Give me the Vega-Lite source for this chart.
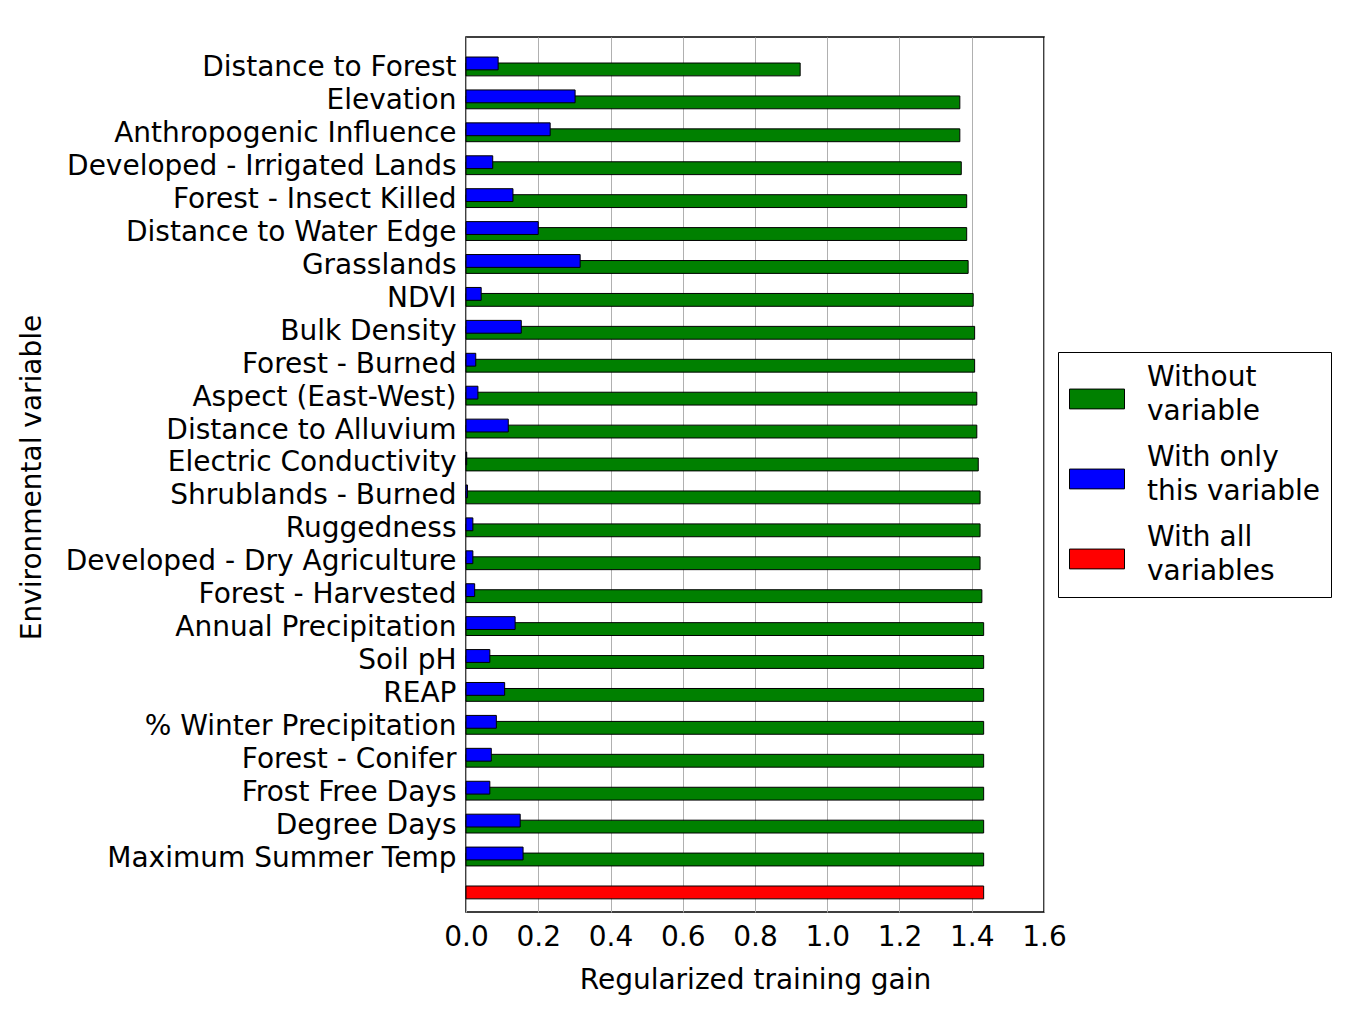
{
  "$schema": "https://vega.github.io/schema/vega-lite/v6.json",
  "width": 578,
  "height": 875,
  "autosize": "none",
  "padding": {"left": 466, "top": 37, "right": 310, "bottom": 98},
  "background": "white",
  "config": {
    "font": "DejaVu Sans",
    "view": {"stroke": "black", "strokeWidth": 1.5},
    "axis": {"labelColor": "black", "titleColor": "black", "labelFont": "DejaVu Sans", "titleFont": "DejaVu Sans", "titleFontWeight": "normal"}
  },
  "data": {
    "values": [
      {"variable": "Distance to Forest", "series": "Without variable", "gain": 0.925},
      {"variable": "Distance to Forest", "series": "With only this variable", "gain": 0.089},
      {"variable": "Elevation", "series": "Without variable", "gain": 1.367},
      {"variable": "Elevation", "series": "With only this variable", "gain": 0.302},
      {"variable": "Anthropogenic Influence", "series": "Without variable", "gain": 1.367},
      {"variable": "Anthropogenic Influence", "series": "With only this variable", "gain": 0.233},
      {"variable": "Developed - Irrigated Lands", "series": "Without variable", "gain": 1.371},
      {"variable": "Developed - Irrigated Lands", "series": "With only this variable", "gain": 0.074},
      {"variable": "Forest - Insect Killed", "series": "Without variable", "gain": 1.386},
      {"variable": "Forest - Insect Killed", "series": "With only this variable", "gain": 0.130},
      {"variable": "Distance to Water Edge", "series": "Without variable", "gain": 1.386},
      {"variable": "Distance to Water Edge", "series": "With only this variable", "gain": 0.200},
      {"variable": "Grasslands", "series": "Without variable", "gain": 1.390},
      {"variable": "Grasslands", "series": "With only this variable", "gain": 0.316},
      {"variable": "NDVI", "series": "Without variable", "gain": 1.404},
      {"variable": "NDVI", "series": "With only this variable", "gain": 0.042},
      {"variable": "Bulk Density", "series": "Without variable", "gain": 1.408},
      {"variable": "Bulk Density", "series": "With only this variable", "gain": 0.153},
      {"variable": "Forest - Burned", "series": "Without variable", "gain": 1.408},
      {"variable": "Forest - Burned", "series": "With only this variable", "gain": 0.027},
      {"variable": "Aspect (East-West)", "series": "Without variable", "gain": 1.414},
      {"variable": "Aspect (East-West)", "series": "With only this variable", "gain": 0.033},
      {"variable": "Distance to Alluvium", "series": "Without variable", "gain": 1.414},
      {"variable": "Distance to Alluvium", "series": "With only this variable", "gain": 0.117},
      {"variable": "Electric Conductivity", "series": "Without variable", "gain": 1.418},
      {"variable": "Electric Conductivity", "series": "With only this variable", "gain": 0.002},
      {"variable": "Shrublands - Burned", "series": "Without variable", "gain": 1.423},
      {"variable": "Shrublands - Burned", "series": "With only this variable", "gain": 0.004},
      {"variable": "Ruggedness", "series": "Without variable", "gain": 1.423},
      {"variable": "Ruggedness", "series": "With only this variable", "gain": 0.019},
      {"variable": "Developed - Dry Agriculture", "series": "Without variable", "gain": 1.423},
      {"variable": "Developed - Dry Agriculture", "series": "With only this variable", "gain": 0.019},
      {"variable": "Forest - Harvested", "series": "Without variable", "gain": 1.428},
      {"variable": "Forest - Harvested", "series": "With only this variable", "gain": 0.024},
      {"variable": "Annual Precipitation", "series": "Without variable", "gain": 1.433},
      {"variable": "Annual Precipitation", "series": "With only this variable", "gain": 0.136},
      {"variable": "Soil pH", "series": "Without variable", "gain": 1.433},
      {"variable": "Soil pH", "series": "With only this variable", "gain": 0.066},
      {"variable": "REAP", "series": "Without variable", "gain": 1.433},
      {"variable": "REAP", "series": "With only this variable", "gain": 0.107},
      {"variable": "% Winter Precipitation", "series": "Without variable", "gain": 1.433},
      {"variable": "% Winter Precipitation", "series": "With only this variable", "gain": 0.084},
      {"variable": "Forest - Conifer", "series": "Without variable", "gain": 1.433},
      {"variable": "Forest - Conifer", "series": "With only this variable", "gain": 0.070},
      {"variable": "Frost Free Days", "series": "Without variable", "gain": 1.433},
      {"variable": "Frost Free Days", "series": "With only this variable", "gain": 0.066},
      {"variable": "Degree Days", "series": "Without variable", "gain": 1.433},
      {"variable": "Degree Days", "series": "With only this variable", "gain": 0.150},
      {"variable": "Maximum Summer Temp", "series": "Without variable", "gain": 1.433},
      {"variable": "Maximum Summer Temp", "series": "With only this variable", "gain": 0.158},
      {"variable": "All", "series": "With all variables", "gain": 1.433}
    ]
  },
  "encoding": {
    "y": {
      "field": "variable",
      "type": "nominal",
      "scale": {
        "domain": ["Distance to Forest", "Elevation", "Anthropogenic Influence", "Developed - Irrigated Lands", "Forest - Insect Killed", "Distance to Water Edge", "Grasslands", "NDVI", "Bulk Density", "Forest - Burned", "Aspect (East-West)", "Distance to Alluvium", "Electric Conductivity", "Shrublands - Burned", "Ruggedness", "Developed - Dry Agriculture", "Forest - Harvested", "Annual Precipitation", "Soil pH", "REAP", "% Winter Precipitation", "Forest - Conifer", "Frost Free Days", "Degree Days", "Maximum Summer Temp", "All"],
        "paddingInner": 0,
        "paddingOuter": 0.29,
        "align": 0.68
      },
      "axis": {
        "title": "Environmental variable",
        "labelExpr": "datum.value == 'All' ? '' : datum.value",
        "labelFontSize": 28,
        "labelPadding": 10,
        "labelOffset": 2,
        "labelLimit": 500,
        "ticks": false,
        "domain": false,
        "titleFontSize": 28,
        "titleX": -434,
        "titleY": 440,
        "titleAlign": "center",
        "titleBaseline": "middle",
        "titleAngle": -90
      }
    },
    "x": {
      "field": "gain",
      "type": "quantitative",
      "scale": {"domain": [0, 1.6], "nice": false},
      "axis": {
        "title": "Regularized training gain",
        "values": [0, 0.2, 0.4, 0.6, 0.8, 1.0, 1.2, 1.4, 1.6],
        "format": ".1f",
        "labelFontSize": 28,
        "labelPadding": 11,
        "ticks": false,
        "domain": false,
        "grid": true,
        "gridColor": "#b0b0b0",
        "gridWidth": 1,
        "titleFontSize": 28,
        "titleY": 68,
        "titleBaseline": "middle",
        "labelFlush": false
      }
    },
    "color": {
      "field": "series",
      "type": "nominal",
      "scale": {
        "domain": ["Without variable", "With only this variable", "With all variables"],
        "range": ["#008000", "#0000ff", "#ff0000"]
      },
      "legend": {
        "title": null,
        "orient": "none",
        "legendX": 592,
        "legendY": 315,
        "direction": "vertical",
        "padding": 11,
        "strokeColor": "black",
        "fillColor": "white",
        "symbolType": "M-1,-0.07H1V0.65H-1Z",
        "symbolSize": 3025,
        "symbolStrokeColor": "black",
        "symbolStrokeWidth": 1,
        "symbolOpacity": 1,
        "labelFontSize": 28,
        "labelFont": "DejaVu Sans",
        "labelColor": "black",
        "labelLimit": 400,
        "labelOffset": 22,
        "labelBaseline": "alphabetic",
        "rowPadding": 17,
        "labelExpr": "datum.label == 'Without variable' ? ['Without', 'variable'] : datum.label == 'With only this variable' ? ['With only', 'this variable'] : ['With all', 'variables']",
        "encode": {
          "labels": {"update": {"lineHeight": {"value": 34}, "dy": {"value": -5}}}
        }
      }
    }
  },
  "layer": [
    {
      "transform": [{"filter": "datum.series != 'With only this variable'"}],
      "mark": {"type": "bar", "height": {"band": 0.39}, "yOffset": 3, "stroke": "black", "strokeWidth": 1, "opacity": 1}
    },
    {
      "transform": [{"filter": "datum.series == 'With only this variable'"}],
      "mark": {"type": "bar", "height": {"band": 0.39}, "yOffset": -3, "stroke": "black", "strokeWidth": 1, "opacity": 1}
    }
  ]
}
